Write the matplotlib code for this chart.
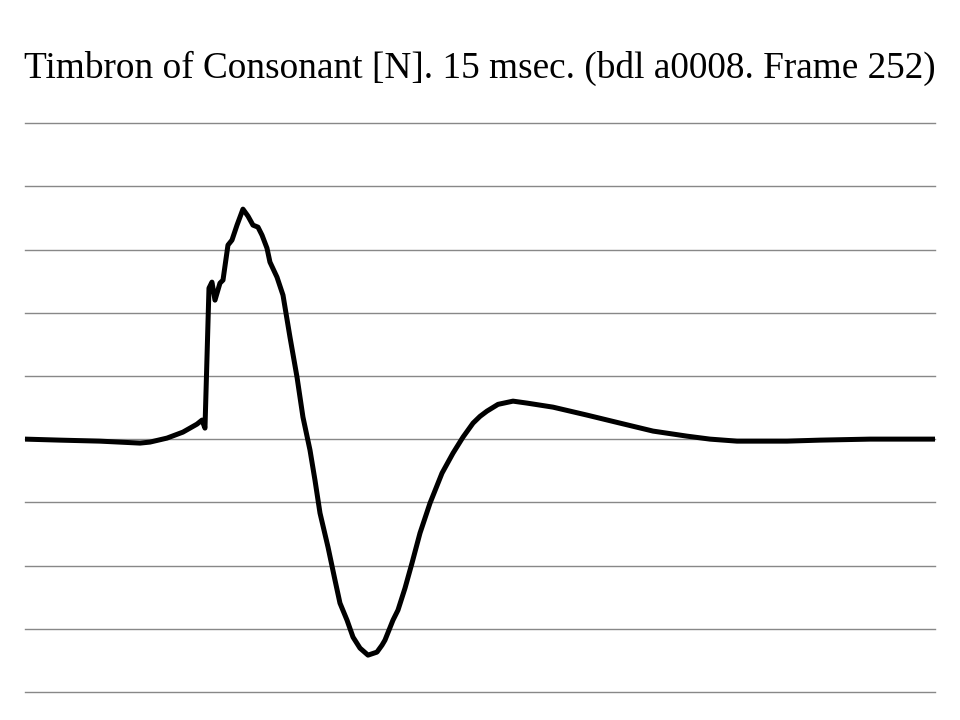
import matplotlib
matplotlib.use("Agg")
import matplotlib.pyplot as plt

# time in msec, amplitude (arbitrary units, one gridline = 1000)
t_ms = [0.0, 0.577, 1.236, 1.896, 2.060, 2.341, 2.604, 2.835, 2.918, 2.967,
        3.033, 3.082, 3.132, 3.214, 3.264, 3.346, 3.412, 3.495, 3.593, 3.676,
        3.758, 3.841, 3.907, 3.989, 4.038, 4.154, 4.253, 4.368, 4.484, 4.582,
        4.698, 4.780, 4.863, 4.995, 5.110, 5.192, 5.308, 5.407, 5.522, 5.654,
        5.802, 5.885, 5.934, 6.066, 6.148, 6.264, 6.379, 6.511, 6.676, 6.874,
        7.055, 7.220, 7.385, 7.500, 7.615, 7.797, 8.044, 8.275, 8.703, 9.264,
        9.808, 10.352, 10.912, 11.291, 11.736, 12.560, 13.104, 13.929, 15.0]
amp = [0, -16, -32, -63, -47, 16, 111, 237, 301, 174,
       2389, 2484, 2199, 2468, 2516, 3070, 3149, 3386, 3639, 3528,
       3386, 3354, 3228, 3022, 2801, 2563, 2278, 1614, 981, 348,
       -174, -649, -1171, -1709, -2231, -2595, -2864, -3133, -3307, -3418,
       -3370, -3260, -3180, -2864, -2706, -2358, -1962, -1487, -1013, -538,
       -222, 32, 253, 360, 443, 550, 601, 570, 506, 380,
       253, 127, 47, 0, -32, -32, -16, 0, 0]

title = "Timbron of Consonant [N]. 15 msec. (bdl a0008. Frame 252)"

fig = plt.figure(figsize=(9.6, 7.2), dpi=100)
ax = fig.add_axes([0.026, 0.039, 0.948, 0.790])

ax.plot(t_ms, amp, color="black", linewidth=3.6, solid_joinstyle="round",
        solid_capstyle="round", zorder=3)

ax.set_xlim(0, 15)
ax.set_ylim(-4000, 5000)
ax.set_yticks(range(-4000, 5001, 1000))
ax.set_xticks([])
ax.yaxis.grid(True, color="#888888", linewidth=1.0)
for gl in ax.get_ygridlines():
    gl.set_clip_on(False)
ax.tick_params(left=False, labelleft=False)
for s in ax.spines.values():
    s.set_visible(False)

fig.text(0.5, 1 - 68 / 720, title, ha="center", va="center",
         fontfamily="Liberation Serif", fontsize=26.8)

fig.savefig("out.png", dpi=100)
